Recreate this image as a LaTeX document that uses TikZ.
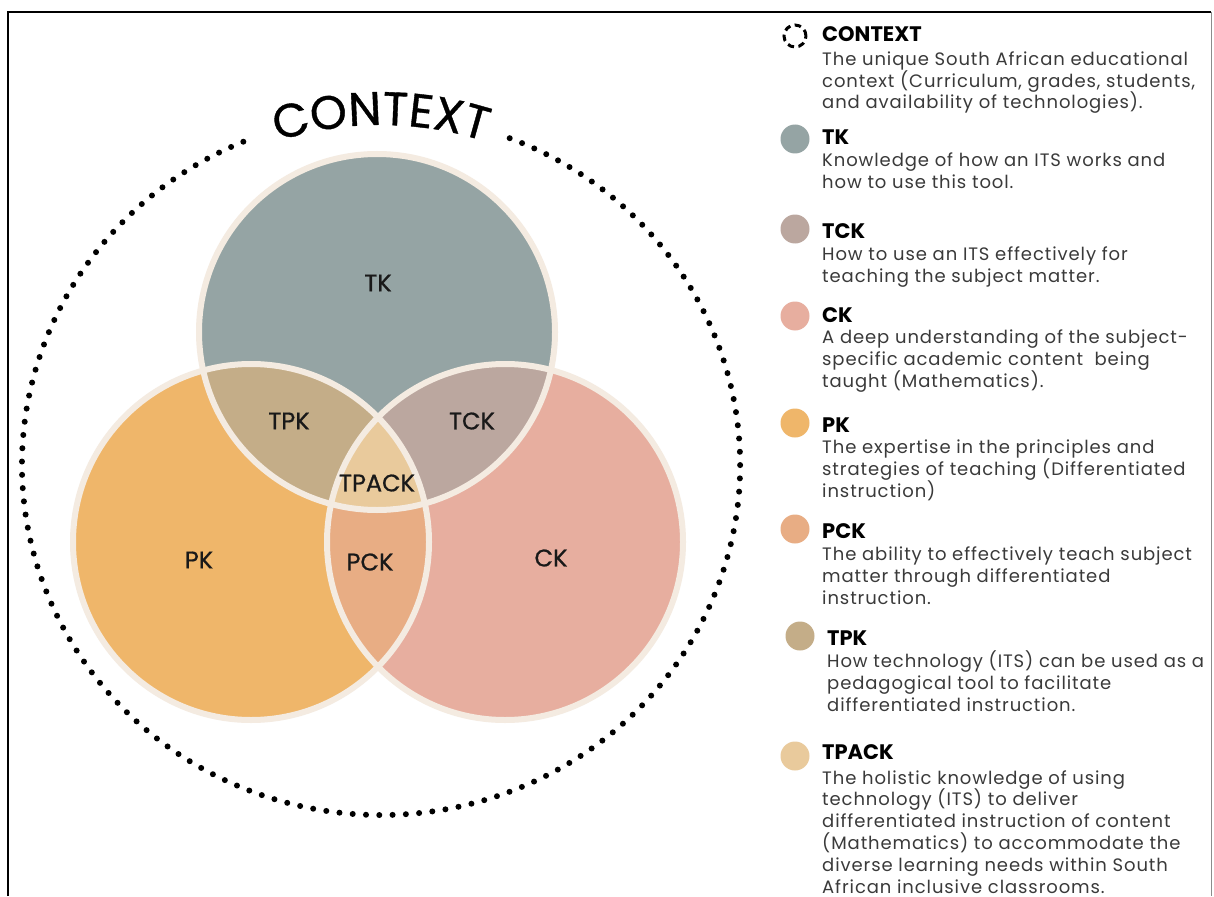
\documentclass[tikz,border=0pt]{standalone}
\usepackage{fontspec}
\setmainfont{Poppins}
\newfontfamily\dscfam{Poppins}[LetterSpace=5.0]
\newfontfamily\medfam{Poppins}[FakeBold=0.8]
\usetikzlibrary{decorations.text}

\definecolor{tkfill}{HTML}{95A4A4}
\definecolor{pkfill}{HTML}{EFB66A}
\definecolor{ckfill}{HTML}{E7AE9F}
\definecolor{tpkfill}{HTML}{C4AD88}
\definecolor{tckfill}{HTML}{BBA79F}
\definecolor{pckfill}{HTML}{E8AD84}
\definecolor{tpackfill}{HTML}{E9CA9C}
\definecolor{rim}{HTML}{F4EBE1}
\definecolor{bodytext}{HTML}{3A3A3A}

\newcommand\ctxfont{\medfam\fontsize{47}{47}\selectfont}
\newcommand\ttlfont{\fontsize{21}{24}\selectfont\bfseries}
\newcommand\dscfont{\dscfam\fontsize{18}{21.8}\selectfont}
\newcommand\vennfont{\medfam\fontsize{24}{26}\selectfont}

\tikzset{
  ring/.style={draw=rim, line width=6pt},
  dotring/.style={line width=6pt, line cap=round, dash pattern=on 0pt off 13.3pt},
  legdot/.style={circle, minimum size=29pt, inner sep=0pt},
  ttl/.style={anchor=base west, font=\ttlfont, text=black, inner sep=0pt},
  % anchor: baseline of the last line
  dsc/.style={anchor=base west, font=\dscfont, text=bodytext, align=left, inner sep=0pt},
  vlab/.style={font=\vennfont, text=black!90, inner sep=0pt},
}

\begin{document}
\begin{tikzpicture}[x=1pt,y=-1pt]
\useasboundingbox (0,0) rectangle (1214,896);
\fill[white] (0,0) rectangle (1214,896);

% frame
\draw[line width=2.5pt] (8,896) -- (8,12) -- (1211,12);
\draw[line width=1pt, black!45] (1211,12) -- (1211,896);

% circle centres
\coordinate (tkc) at (377,332);
\coordinate (pkc) at (251,542);
\coordinate (ckc) at (505,542);

% base discs
\fill[tkfill] (tkc) circle[radius=178];
\fill[pkfill] (pkc) circle[radius=178];
\fill[ckfill] (ckc) circle[radius=178];
% PCK overlap
\begin{scope}
  \clip (pkc) circle[radius=178];
  \fill[pckfill] (ckc) circle[radius=178];
\end{scope}
% TPK, TCK and TPACK overlaps
\begin{scope}
  \clip (tkc) circle[radius=178];
  \fill[tpkfill] (pkc) circle[radius=178];
  \fill[tckfill] (ckc) circle[radius=178];
  \clip (pkc) circle[radius=178];
  \fill[tpackfill] (ckc) circle[radius=178];
\end{scope}
% rims
\draw[ring] (tkc) circle[radius=178];
\draw[ring] (pkc) circle[radius=178];
\draw[ring] (ckc) circle[radius=178];

% region labels
\node[vlab] (tk)    at (378,283) {TK};
\node[vlab] (tpk)   at (289,421) {TPK};
\node[vlab] (tck)   at (472,421) {TCK};
\node[vlab] (tpack) at (377,483) {TPACK};
\node[vlab] (pk)    at (199,560) {PK};
\node[vlab] (pck)   at (370,562) {PCK};
\node[vlab] (ck)    at (551,558) {CK};

% dotted context ring with a gap for its title
\draw[dotring] (509.7,138.2) arc[start angle=-69, end angle=249, x radius=359, y radius=350];
\path[decorate, decoration={text along path, text align=center,
    text={|\ctxfont|CONTEXT}}]
  (381,463) ++(-113:338) arc[start angle=-113, end angle=-67, radius=338];

% legend
\node[circle, minimum size=22pt, inner sep=0pt, draw, line width=3pt,
      dash pattern=on 6.5pt off 4.5pt] (lctx) at (795,36) {};
\node[ttl] (tctx) at (822,42) {CONTEXT};
\node[dsc] (dctx) at (822,109) {The unique South African educational\\context (Curriculum, grades, students,\\and availability of technologies).};

\node[legdot, fill=tkfill] (ltk) at (795,139) {};
\node[ttl] (ttk) at (822,145) {TK};
\node[dsc] (dtk) at (822,188) {Knowledge of how an ITS works and\\how to use this tool.};

\node[legdot, fill=tckfill] (ltck) at (795,229) {};
\node[ttl] (ttck) at (822,238) {TCK};
\node[dsc] (dtck) at (822,282) {How to use an ITS effectively for\\teaching the subject matter.};

\node[legdot, fill=ckfill] (lck) at (795,316) {};
\node[ttl] (tck2) at (822,322) {CK};
\node[dsc] (dck) at (822,387) {A deep understanding of the subject-\\specific academic content\ \ being\\taught (Mathematics).};

\node[legdot, fill=pkfill] (lpk) at (795,423) {};
\node[ttl] (tpk2) at (822,432) {PK};
\node[dsc] (dpk) at (822,497) {The expertise in the principles and\\strategies of teaching (Differentiated\\instruction)};

\node[legdot, fill=pckfill] (lpck) at (795,529) {};
\node[ttl] (tpck) at (822,538) {PCK};
\node[dsc] (dpck) at (822,604) {The ability to effectively teach subject\\matter through differentiated\\instruction.};

\node[legdot, fill=tpkfill] (ltpk) at (800,636) {};
\node[ttl] (ttpk) at (827,645) {TPK};
\node[dsc] (dtpk) at (827,711) {How technology (ITS) can be used as a\\pedagogical tool to facilitate\\differentiated instruction.};

\node[legdot, fill=tpackfill] (ltpack) at (795,756) {};
\node[ttl] (ttpack) at (822,759) {TPACK};
\node[dsc] (dtpack) at (822,893) {The holistic knowledge of using\\technology (ITS) to deliver\\differentiated instruction of content\\(Mathematics) to accommodate the\\diverse learning needs within South\\African inclusive classrooms.};
\end{tikzpicture}
\end{document}
